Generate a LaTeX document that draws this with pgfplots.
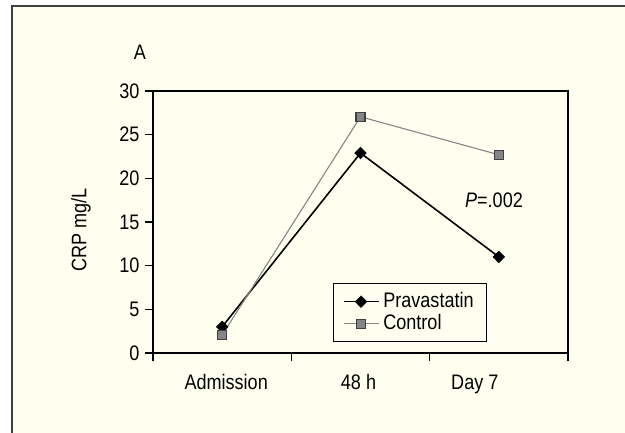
\documentclass[border=0pt]{standalone}
\usepackage{fontspec}
\setmainfont{Liberation Sans}[FakeStretch=0.86]
\usepackage{pgfplots}
\pgfplotsset{compat=1.18}
\definecolor{cream}{HTML}{FFFFF0}
\definecolor{framegray}{HTML}{404040}
\definecolor{ctrlgray}{HTML}{858585}
\begin{document}
\begin{tikzpicture}[x=1pt,y=1pt,font=\fontsize{21}{25}\selectfont]
\path[use as bounding box] (0,0) rectangle (625,432);
\clip (0,0) rectangle (625,432);
\draw[framegray, line width=1.6pt, fill=cream] (12,426) rectangle (660,-30);
\begin{axis}[
  at={(153pt,79pt)}, anchor=south west,
  scale only axis, width=415pt, height=262pt,
  font=\fontsize{21}{25}\selectfont,
  /pgf/number format/assume math mode=true,
  xmin=-0.5, xmax=2.5, ymin=0, ymax=30,
  xtick={-0.5,0.5,1.5,2.5}, xticklabels={,,,},
  extra x ticks={0,1,2},
  extra x tick labels={\hspace*{8pt}Admission,48 h\hspace*{4pt},Day 7\hspace*{48pt}},
  extra x tick style={tick style={draw=none}, tick label style={anchor=base, yshift=-28pt}},
  ytick={0,5,...,30},
  yticklabel style={xshift=-2pt},
  tick align=outside,
  xtick pos=bottom, ytick pos=left,
  major tick length=8pt,
  axis line style={line width=1.3pt, black},
  tick style={line width=1.3pt, black},
  legend style={at={(0.434,0.267)}, anchor=north west, draw=black, line width=1.2pt,
    fill=cream, inner xsep=9pt, inner ysep=7pt, font=\fontsize{21}{25}\selectfont,
    nodes={text height=15pt, text depth=4pt, inner ysep=1.5pt, inner xsep=4pt}},
  legend cell align=left,
  legend image code/.code={\draw[mark repeat=2,mark phase=2,#1] plot coordinates {(0pt,0pt) (17.5pt,0pt) (35pt,0pt)};},
]
\addplot[black, line width=1.6pt, mark=square*, mark size=4.1pt,
  mark options={rotate=45, solid, fill=black, line width=0.5pt}]
  coordinates {(0,3.0) (1,22.9) (2,11.0)};
\addlegendentry{Pravastatin\hspace{9pt}}
\addplot[ctrlgray, line width=1.1pt, mark=square*, mark size=4.5pt,
  mark options={solid, fill=ctrlgray, draw=framegray, line width=1.1pt}]
  coordinates {(0,2.05) (1,27.05) (2,22.7)};
\addlegendentry{Control}
\node at (axis cs:1.965,17.5) {\textit{P}=.002};
\end{axis}
\node[rotate=90] at (81,202) {CRP mg/L};
\node at (140,380) {A};
\end{tikzpicture}
\end{document}
